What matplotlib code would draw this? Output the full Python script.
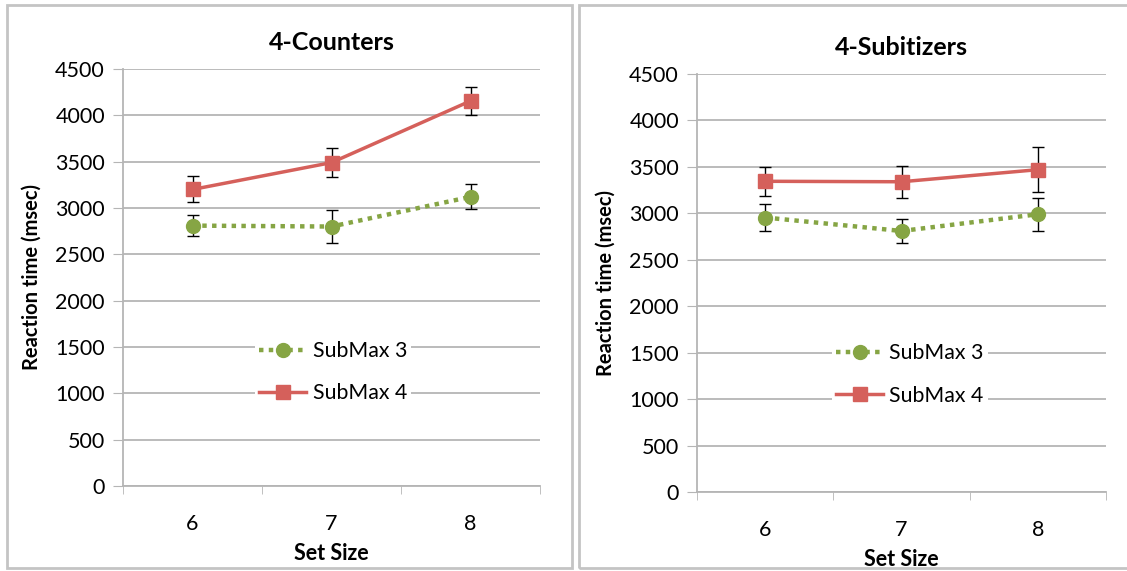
import matplotlib.pyplot as plt
from matplotlib.patches import Rectangle

plt.rcParams['font.family'] = ['Lato', 'DejaVu Sans']

set_sizes = ['6', '7', '8']
y_ticks = [0, 500, 1000, 1500, 2000, 2500, 3000, 3500, 4000, 4500]

# 4-Counters
counters_sub3 = [2810, 2800, 3120]
counters_sub3_err = [115, 180, 135]
counters_sub4 = [3200, 3490, 4155]
counters_sub4_err = [140, 160, 155]

# 4-Subitizers
subitizers_sub3 = [2955, 2810, 2990]
subitizers_sub3_err = [145, 125, 180]
subitizers_sub4 = [3345, 3340, 3470]
subitizers_sub4_err = [155, 170, 240]

green = '#86A544'
red = '#D5605B'
grid_col = '#B5B5B5'

W, H = 1127, 571
fig = plt.figure(figsize=(W / 100, H / 100), dpi=100)

# panel frames
fig.patches.append(Rectangle((7 / W, 1 - 568 / H), 565 / W, 563 / H,
                             transform=fig.transFigure, fill=False,
                             edgecolor='#C4C4C4', linewidth=2))
fig.patches.append(Rectangle((579 / W, 1 - 568 / H), 550 / W, 563 / H,
                             transform=fig.transFigure, fill=False,
                             edgecolor='#C4C4C4', linewidth=2))

panels = [
    ('4-Counters', [123 / W, 1 - 486 / H, 417 / W, 417 / H],
     counters_sub3, counters_sub3_err, counters_sub4, counters_sub4_err,
     (0.504, 0.273)),
    ('4-Subitizers', [697 / W, 1 - 492 / H, 409 / W, 418 / H],
     subitizers_sub3, subitizers_sub3_err, subitizers_sub4, subitizers_sub4_err,
     (0.521, 0.281)),
]

for title, rect, s3, e3, s4, e4, leg_pos in panels:
    ax = fig.add_axes(rect)
    x = [1, 2, 3]
    ax.errorbar(x, s3, yerr=e3, color=green, linestyle=(0, (1, 1.2)), linewidth=3.2,
                marker='o', markersize=10, ecolor='black', elinewidth=1,
                capsize=4, capthick=1, label='SubMax 3', zorder=3)
    ax.errorbar(x, s4, yerr=e4, color=red, linestyle='-', linewidth=2.5,
                marker='s', markersize=10, ecolor='black', elinewidth=1,
                capsize=4, capthick=1, label='SubMax 4', zorder=3)

    ax.set_xlim(0.5, 3.5)
    ax.set_ylim(0, 4500)
    ax.set_yticks(y_ticks)
    ax.set_yticklabels([str(v) for v in y_ticks], fontsize=15.5)
    ax.set_xticks(x)
    ax.set_xticklabels(set_sizes, fontsize=15.5)
    ax.set_xticks([0.5, 1.5, 2.5, 3.5], minor=True)
    ax.tick_params(axis='x', which='major', length=0, pad=20)
    ax.tick_params(axis='x', which='minor', length=6, color=grid_col, direction='out')
    ax.tick_params(axis='y', length=7, color=grid_col, direction='out', pad=6)

    ax.grid(axis='y', color=grid_col, linewidth=1.3)
    ax.set_axisbelow(True)
    for side in ['top', 'right']:
        ax.spines[side].set_visible(False)
    ax.spines['left'].set_color(grid_col)
    ax.spines['bottom'].set_color(grid_col)
    ax.spines['left'].set_linewidth(1.3)
    ax.spines['bottom'].set_linewidth(1.3)

    ax.set_title(title, fontsize=18, fontweight='bold', pad=14)
    ax.set_ylabel('Reaction time (msec)', fontsize=14.5, fontweight='bold', labelpad=10)
    ax.set_xlabel('Set Size', fontsize=15.5, fontweight='bold', labelpad=7)

    handles, labels = ax.get_legend_handles_labels()
    handles = [h[0] for h in handles]
    leg = ax.legend(handles, labels, loc='center', bbox_to_anchor=leg_pos,
                    fontsize=15.3, frameon=True, framealpha=1, edgecolor='white',
                    handlelength=2.2, handletextpad=0.3, labelspacing=1.05,
                    borderpad=0.2)
    leg.get_frame().set_linewidth(0)

fig.savefig('out.png', dpi=100)
